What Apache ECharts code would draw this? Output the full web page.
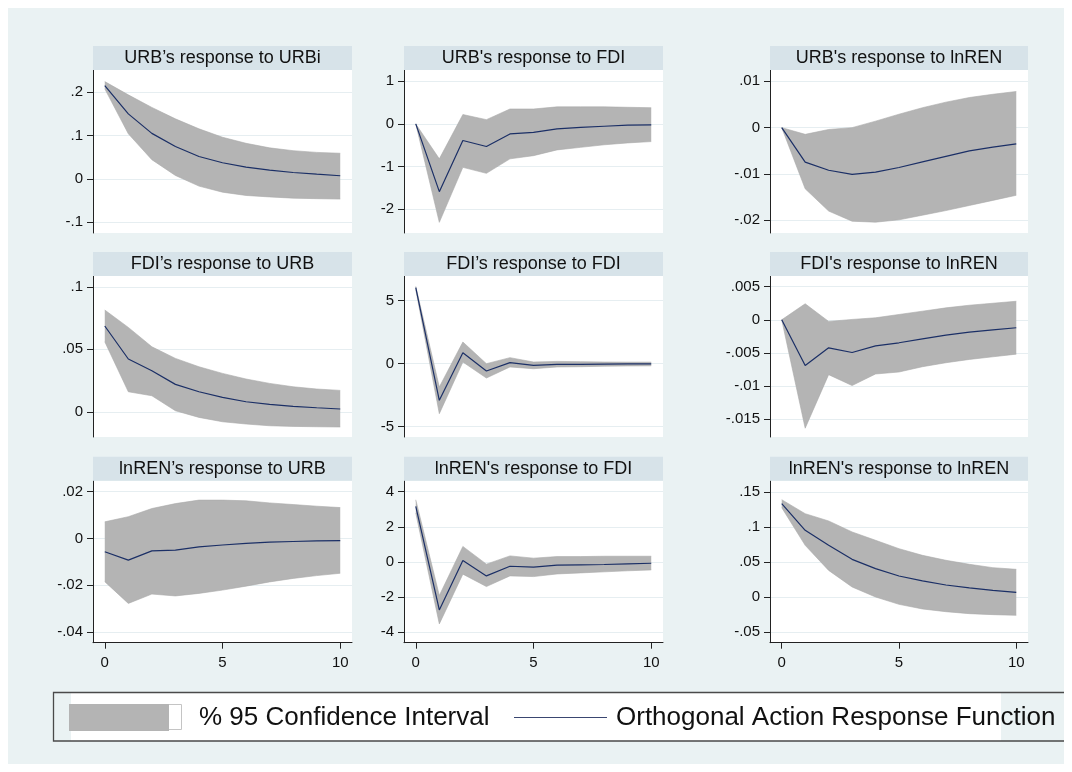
<!DOCTYPE html>
<html><head><meta charset="utf-8">
<script src="https://cdn.jsdelivr.net/npm/echarts@6/dist/echarts.min.js"></script>
<style>html,body{margin:0;padding:0;background:#fff}#c{width:1072px;height:772px}</style>
</head><body><div id="c"></div>
<script>
// ---------- data ----------
const steps = [0,1,2,3,4,5,6,7,8,9,10];
const xTickLabels = [0,5,10];
const titles = [
  'URB\u2019s response to URBi', "URB's response to FDI", "URB's response to lnREN",
  'FDI\u2019s response to URB', 'FDI\u2019s response to FDI', "FDI's response to lnREN",
  'lnREN\u2019s response to URB', "lnREN's response to FDI", "lnREN's response to lnREN"
];
const legendBand = '% 95 Confidence Interval';
const legendLine = 'Orthogonal Action Response Function';

const irf_URB_URB = [0.2155,0.150,0.105,0.0746,0.0515,0.037,0.027,0.020,0.0145,0.0107,0.007];
const hi_URB_URB  = [0.2247,0.194,0.165,0.1385,0.1155,0.096,0.082,0.0715,0.065,0.061,0.059];
const lo_URB_URB  = [0.208,0.104,0.044,0.0076,-0.017,-0.031,-0.0386,-0.042,-0.0448,-0.046,-0.047];

const irf_URB_FDI = [0,-1.59,-0.39,-0.53,-0.235,-0.197,-0.118,-0.08,-0.055,-0.03,-0.025];
const hi_URB_FDI  = [0,-0.82,0.22,0.10,0.35,0.35,0.40,0.40,0.40,0.39,0.38];
const lo_URB_FDI  = [0,-2.31,-1.02,-1.16,-0.82,-0.745,-0.61,-0.55,-0.49,-0.446,-0.415];

const irf_URB_REN = [0,-0.00743,-0.0092,-0.0101,-0.0096,-0.0086,-0.0074,-0.0062,-0.0050,-0.0042,-0.0035];
const hi_URB_REN  = [0,-0.00145,-0.0004,0,0.0014,0.0029,0.0043,0.0055,0.0065,0.0072,0.0078];
const lo_URB_REN  = [0,-0.0132,-0.018,-0.0202,-0.0204,-0.0199,-0.0189,-0.0179,-0.0168,-0.0157,-0.0146];

const irf_FDI_URB = [0.0686,0.0422,0.0328,0.0219,0.016,0.0115,0.008,0.0059,0.0043,0.0032,0.0022];
const hi_FDI_URB  = [0.0814,0.0675,0.052,0.0427,0.036,0.0307,0.0262,0.0227,0.020,0.0182,0.0171];
const lo_FDI_URB  = [0.056,0.016,0.0128,0.0008,-0.0045,-0.008,-0.0098,-0.0112,-0.0117,-0.012,-0.0122];

const irf_FDI_FDI = [6.03,-2.91,0.87,-0.58,0.08,-0.13,-0.05,-0.05,-0.03,-0.02,-0.02];
const hi_FDI_FDI  = [6.14,-1.85,1.72,0,0.48,0.13,0.18,0.16,0.13,0.12,0.12];
const lo_FDI_FDI  = [5.87,-3.97,0.13,-1.14,-0.26,-0.40,-0.26,-0.24,-0.2,-0.18,-0.17];

const irf_FDI_REN = [0,-0.00692,-0.00424,-0.00495,-0.00394,-0.00348,-0.00288,-0.00232,-0.00187,-0.00152,-0.00121];
const hi_FDI_REN  = [0,0.00242,-0.00025,0.00005,0.0003,0.0008,0.0013,0.0018,0.0022,0.0025,0.0028];
const lo_FDI_REN  = [0,-0.0164,-0.0083,-0.00995,-0.0082,-0.0079,-0.0071,-0.0065,-0.006,-0.0056,-0.0052];

const irf_REN_URB = [-0.0057,-0.0093,-0.0053,-0.005,-0.0036,-0.0028,-0.0021,-0.0016,-0.0013,-0.001,-0.0009];
const hi_REN_URB  = [0.0071,0.0093,0.0128,0.0149,0.0164,0.0164,0.0161,0.0152,0.0145,0.0138,0.0132];
const lo_REN_URB  = [-0.0185,-0.0278,-0.0238,-0.0246,-0.0235,-0.0221,-0.0204,-0.0186,-0.0171,-0.0159,-0.0149];

const irf_REN_FDI = [3.16,-2.74,0.08,-0.8,-0.25,-0.3,-0.19,-0.17,-0.15,-0.11,-0.08];
const hi_REN_FDI  = [3.54,-1.92,0.88,-0.13,0.34,0.21,0.3,0.3,0.32,0.32,0.32];
const lo_REN_FDI  = [2.78,-3.54,-0.7,-1.41,-0.8,-0.84,-0.69,-0.63,-0.57,-0.51,-0.46];

const irf_REN_REN = [0.1333,0.0952,0.0738,0.0538,0.0405,0.030,0.0229,0.0171,0.0129,0.0095,0.0067];
const hi_REN_REN  = [0.139,0.119,0.1086,0.0929,0.081,0.069,0.0595,0.0524,0.0467,0.0419,0.0395];
const lo_REN_REN  = [0.1276,0.0738,0.038,0.0143,0,-0.0105,-0.0171,-0.021,-0.0238,-0.0252,-0.0262];

const yTicks_URB_URB = [-0.1,0,0.1,0.2];
const yTicks_URB_FDI = [-2,-1,0,1];
const yTicks_URB_REN = [-0.02,-0.01,0,0.01];
const yTicks_FDI_URB = [0,0.05,0.1];
const yTicks_FDI_FDI = [-5,0,5];
const yTicks_FDI_REN = [-0.015,-0.01,-0.005,0,0.005];
const yTicks_REN_URB = [-0.04,-0.02,0,0.02];
const yTicks_REN_FDI = [-4,-2,0,2,4];
const yTicks_REN_REN = [-0.05,0,0.05,0.1,0.15];

const yRange_URB_URB = [-0.1254,0.2515];
const yRange_URB_FDI = [-2.56,1.265];
const yRange_URB_REN = [-0.02274,0.01244];
const yRange_FDI_URB = [-0.0202,0.1086];
const yRange_FDI_FDI = [-5.82,6.96];
const yRange_FDI_REN = [-0.01773,0.00662];
const yRange_REN_URB = [-0.0446,0.0247];
const yRange_REN_FDI = [-4.61,4.627];
const yRange_REN_REN = [-0.0653,0.1661];

const panels = [
  [irf_URB_URB,lo_URB_URB,hi_URB_URB,yTicks_URB_URB,yRange_URB_URB],
  [irf_URB_FDI,lo_URB_FDI,hi_URB_FDI,yTicks_URB_FDI,yRange_URB_FDI],
  [irf_URB_REN,lo_URB_REN,hi_URB_REN,yTicks_URB_REN,yRange_URB_REN],
  [irf_FDI_URB,lo_FDI_URB,hi_FDI_URB,yTicks_FDI_URB,yRange_FDI_URB],
  [irf_FDI_FDI,lo_FDI_FDI,hi_FDI_FDI,yTicks_FDI_FDI,yRange_FDI_FDI],
  [irf_FDI_REN,lo_FDI_REN,hi_FDI_REN,yTicks_FDI_REN,yRange_FDI_REN],
  [irf_REN_URB,lo_REN_URB,hi_REN_URB,yTicks_REN_URB,yRange_REN_URB],
  [irf_REN_FDI,lo_REN_FDI,hi_REN_FDI,yTicks_REN_FDI,yRange_REN_FDI],
  [irf_REN_REN,lo_REN_REN,hi_REN_REN,yTicks_REN_REN,yRange_REN_REN]
];

// ---------- layout / style ----------
const FONT = '"Liberation Sans", Arial, Helvetica, sans-serif';
const colLeft = [93, 404, 770];
const colWidth = [259, 259, 258];
const rowTop = [70, 276, 480.7];
const rowHeight = [163, 161, 162];
const bandH = 24;
const BG = '#eaf2f3', BAND = '#d7e3e9', GRID = '#e6eef1';
const CI = '#b4b4b4', LINE = '#1b2f66', AX = '#222';

function fmt(v){
  let s = String(parseFloat(Number(v).toFixed(6)));
  return s.replace(/^(-?)0\./, '$1.');
}
const every5 = (i) => i % 5 === 0;

const grids = [], xAxes = [], yAxes = [], series = [], graphics = [];
graphics.push({type:'rect', z:-100, shape:{x:8,y:8,width:1056,height:756}, style:{fill:BG}});

panels.forEach((p, i) => {
  const r = Math.floor(i/3), c = i%3;
  const [irf, lo, hi, ticks, range] = p;
  grids.push({left:colLeft[c], top:rowTop[r], width:colWidth[c], height:rowHeight[r],
    show:true, backgroundColor:'#fff', borderWidth:0});
  const bottom = r === 2;
  xAxes.push({type:'category', gridIndex:i, data:steps, boundaryGap:true, show:bottom,
    axisLine:{show:true, onZero:false, lineStyle:{color:AX, width:1}},
    axisTick:{show:true, alignWithLabel:true, interval:every5, length:6, lineStyle:{color:AX}},
    axisLabel:{interval:every5, fontSize:15, color:'#111', fontFamily:FONT, margin:13},
    splitLine:{show:false}});
  yAxes.push({type:'value', gridIndex:i, min:range[0], max:range[1],
    axisLine:{show:true, lineStyle:{color:AX, width:1}},
    axisTick:{show:true, length:6, customValues:ticks, lineStyle:{color:AX}},
    axisLabel:{customValues:ticks, formatter:fmt, fontSize:15, color:'#111', fontFamily:FONT, margin:10},
    splitLine:{show:true, lineStyle:{color:GRID, width:1}}});
  const diff = hi.map((h, k) => +(h - lo[k]).toFixed(8));
  series.push({type:'line', name:'lower', xAxisIndex:i, yAxisIndex:i, data:lo,
    stack:'b'+i, stackStrategy:'all', symbol:'none', silent:true,
    lineStyle:{width:0.6, color:'#a9a9a9'}, z:2});
  series.push({type:'line', name:legendBand, xAxisIndex:i, yAxisIndex:i, data:diff,
    stack:'b'+i, stackStrategy:'all', symbol:'none', silent:true,
    itemStyle:{color:CI}, lineStyle:{width:0.6, color:'#a9a9a9'},
    areaStyle:{color:CI, opacity:1}, z:2});
  series.push({type:'line', name:legendLine, xAxisIndex:i, yAxisIndex:i, data:irf,
    symbol:'none', silent:true, itemStyle:{color:LINE}, lineStyle:{width:1.2, color:LINE}, z:3});
  // title band + title text
  graphics.push({type:'rect', z:1, shape:{x:colLeft[c], y:rowTop[r]-bandH, width:colWidth[c], height:bandH},
    style:{fill:BAND}});
  graphics.push({type:'text', z:2, x:colLeft[c]+colWidth[c]/2, y:rowTop[r]-bandH/2+0.5,
    style:{text:titles[i], fill:'#111', font:'18px '+FONT, textAlign:'center', textVerticalAlign:'middle'}});
});

// legend box
graphics.push({type:'rect', z:1, shape:{x:71, y:693, width:930, height:48}, style:{fill:'#fff'}});
graphics.push({type:'polyline', z:2, shape:{points:[[1064,692.5],[53.5,692.5],[53.5,741],[1064,741]]},
  style:{stroke:'#4a4a4a', lineWidth:1.3, fill:null}});
graphics.push({type:'rect', z:2, shape:{x:84.5, y:704.5, width:97, height:25},
  style:{fill:'#fff', stroke:'#c4c4c4', lineWidth:1}});

const option = {
  backgroundColor:'#fff',
  animation:false,
  grid:grids, xAxis:xAxes, yAxis:yAxes, series:series,
  graphic:{elements:graphics},
  legend:[
    {data:[legendBand], left:69, top:704, orient:'horizontal', padding:0, selectedMode:false,
     icon:'rect', itemWidth:100, itemHeight:27, itemStyle:{color:CI, borderWidth:0},
     textStyle:{fontSize:26, lineHeight:27, color:'#111', fontFamily:FONT, padding:[0,0,0,25]}},
    {data:[legendLine], left:514, top:704, orient:'horizontal', padding:0, selectedMode:false,
     icon:'path://M0,0L100,0L100,1.1L0,1.1Z', symbolKeepAspect:true,
     itemWidth:93, itemHeight:27, itemStyle:{color:'#3a4670', borderWidth:0},
     textStyle:{fontSize:26, lineHeight:27, color:'#111', fontFamily:FONT, padding:[0,0,0,4]}}
  ]
};
const chart = echarts.init(document.getElementById('c'), null, {renderer:'canvas'});
chart.setOption(option);
</script>
</body></html>
